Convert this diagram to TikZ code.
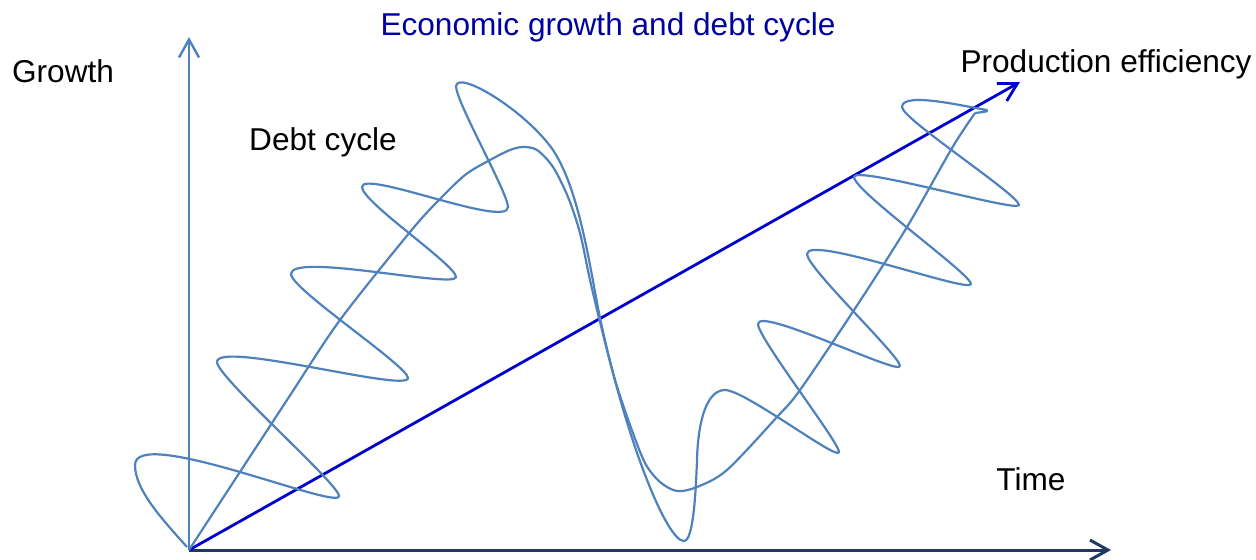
\documentclass[tikz,border=0pt]{standalone}
\usepackage{fontspec}
\setmainfont{Liberation Sans}
\usetikzlibrary{arrows.meta}
\definecolor{cyclblue}{RGB}{79,129,189}
\definecolor{axisnavy}{RGB}{31,56,100}
\definecolor{prodblue}{RGB}{0,0,204}
\definecolor{titleblue}{RGB}{0,0,160}

\begin{document}
\begin{tikzpicture}[x=0.5pt,y=-0.5pt,
  font=\fontsize{15.8}{19}\selectfont,
  barb/.style={-{Straight Barb[length=9pt,width=10pt]}},
  cycleline/.style={cyclblue,line width=1.1pt,line join=round},
  lbl/.style={anchor=base,inner sep=0pt}]
\useasboundingbox (0,0) rectangle (1256,559);

\coordinate (O) at (189,550);
\coordinate (ytip) at (189,37);
\coordinate (xtip) at (1111,550);
\coordinate (ptip) at (1020,82);
\coordinate (hook) at (975,113);

\node[lbl,text=titleblue] (title) at (608,35) {Economic growth and debt cycle};
\node[lbl] (growth) at (63,82) {Growth};
\node[lbl] (debt) at (323,150) {Debt cycle};
\node[lbl] (prodeff) at (1106,72) {Production efficiency};
\node[lbl] (time) at (1031,490) {Time};

% axes
\draw[barb,cyclblue,line width=1.2pt] (O) -- (ytip);
\draw[barb,axisnavy,line width=1.5pt] (O) -- (xtip);
\draw[barb,prodblue,line width=1.4pt] (O) -- (ptip);

% long cycle
\draw[cycleline] plot[smooth,tension=0.5] coordinates {
  (O) (287,400) (340,320) (410,232) (437,202)
  (465,175) (490,160) (510,150) (523,147) (537,150) (553,167) (568,197)
  (580,233) (590,280) (602,330) (615,380) (630,425) (645,463) (660,482)
  (677,491) (697,487) (727,470) (777,417) (800,390) (856,307)
  (907,227) (952,148) (hook)};

% short cycles
\draw[cycleline] (187,547)
  .. controls +(-25,-28) and +(0,25) .. (135,465)
  .. controls +(0,-40) and +(0,15) .. (339,496)
  .. controls +(0,-12) and +(0,15) .. (217,362)
  .. controls +(0,-22) and +(0,15) .. (408,378)
  .. controls +(0,-12) and +(0,15) .. (291,274)
  .. controls +(0,-22) and +(0,12) .. (456,277)
  .. controls +(0,-12) and +(0,15) .. (362,187)
  .. controls +(0,-18) and +(0,22) .. (508,207)
  .. controls +(0,-14) and +(0,16) .. (456,86)
  .. controls +(2,-16) and +(-28,-40) .. (553,150)
  .. controls +(27,41) and +(-10,-49) .. (600,318)
  .. controls +(25,118) and +(-18,0) .. (684,541)
  .. controls +(10,0) and +(-1,25) .. (697,460)
  .. controls +(1,-40) and +(-18,0) .. (725,390)
  .. controls +(20,0) and +(0,10) .. (839,452)
  .. controls +(0,-10) and +(0,14) .. (758,324)
  .. controls +(0,-18) and +(0,10) .. (900,366)
  .. controls +(0,-10) and +(0,14) .. (807,254)
  .. controls +(0,-20) and +(0,10) .. (971,284)
  .. controls +(0,-10) and +(0,14) .. (854,177)
  .. controls +(0,-12) and +(0,8) .. (1019,205)
  .. controls +(0,-10) and +(0,12) .. (902,107)
  .. controls +(0,-16) and +(-20,-3) .. (987,110)
  .. controls +(2,2) and +(6,-1) .. (hook);
\end{tikzpicture}
\end{document}
